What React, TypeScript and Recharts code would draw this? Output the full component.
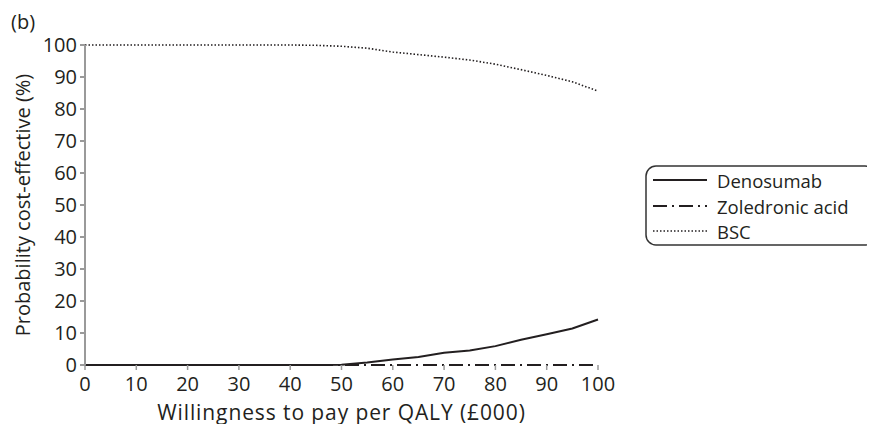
import { Line, LineChart, XAxis, YAxis } from 'recharts'

const wtp = [0, 5, 10, 15, 20, 25, 30, 35, 40, 45, 50, 55, 60, 65, 70, 75, 80, 85, 90, 95, 100]
const denosumab = [0, 0, 0, 0, 0, 0, 0, 0, 0, 0, 0.1, 0.8, 1.7, 2.5, 3.8, 4.5, 5.9, 7.9, 9.6, 11.4, 14.2]
const zoledronic = [0, 0, 0, 0, 0, 0, 0, 0, 0, 0, 0, 0, 0, 0, 0, 0, 0, 0, 0, 0, 0]
const bsc = [100, 100, 100, 100, 100, 100, 100, 100, 100, 99.9, 99.6, 99.0, 97.8, 97.0, 96.2, 95.3, 94.0, 92.3, 90.5, 88.5, 85.6]

const xTicks = [0, 10, 20, 30, 40, 50, 60, 70, 80, 90, 100]
const yTicks = [0, 10, 20, 30, 40, 50, 60, 70, 80, 90, 100]

const seriesNames = ['Denosumab', 'Zoledronic acid', 'BSC']

const data = wtp.map((w, i) => ({
  wtp: w,
  denosumab: denosumab[i],
  zoledronic: zoledronic[i],
  bsc: bsc[i],
}))

const FONT = '"Open Sans", "Noto Sans", sans-serif'
const INK = '#231f20'
const AXIS = '#9a9a9a'

const lineStyles = [
  { dash: undefined, width: 2 },
  { dash: '14 5 2 5', width: 2 },
  { dash: '1.5 2', width: 1.6 },
]

// legend drawn outside the chart so it doesn't eat plot space
function LegendBox() {
  const rows = [15, 41, 66]
  return (
    <svg
      width={232}
      height={82}
      style={{ position: 'absolute', left: 645, top: 165, overflow: 'visible' }}
    >
      <rect x={1} y={1} width={229} height={79} rx={10} fill="#fff" stroke="#333" strokeWidth={1.5} />
      {seriesNames.map((name, i) => (
        <g key={name}>
          <line
            x1={8}
            x2={62}
            y1={rows[i]}
            y2={rows[i]}
            stroke={INK}
            strokeWidth={lineStyles[i].width}
            strokeDasharray={lineStyles[i].dash}
          />
          <text x={72} y={rows[i]} dominantBaseline="central" fontSize={18.5} fill={INK} fontFamily={FONT}>
            {name}
          </text>
        </g>
      ))}
    </svg>
  )
}

export default function App() {
  return (
    <div style={{ margin: -8, width: 875, height: 432, position: 'relative', background: '#fff' }}>
      <div
        style={{
          position: 'absolute',
          left: 11,
          top: 8,
          fontFamily: FONT,
          fontSize: 20,
          lineHeight: '28px',
          color: INK,
          zIndex: 2,
        }}
      >
        (b)
      </div>
      <LineChart
        width={875}
        height={432}
        data={data}
        margin={{ top: 45, right: 277, bottom: 0, left: 0 }}
      >
        <XAxis
          dataKey="wtp"
          type="number"
          domain={[0, 100]}
          ticks={xTicks}
          interval={0}
          height={67}
          axisLine={false}
          tickLine={{ stroke: AXIS, strokeWidth: 1.5 }}
          tickSize={5}
          tickMargin={7}
          tick={{ fill: INK, fontSize: 20, fontFamily: FONT }}
          label={{
            value: 'Willingness to pay per QALY (£000)',
            position: 'insideBottom',
            offset: 12,
            fill: INK,
            fontSize: 21,
            letterSpacing: 0.9,
            fontFamily: FONT,
          }}
        />
        <YAxis
          type="number"
          domain={[0, 100]}
          ticks={yTicks}
          interval={0}
          width={85}
          stroke={AXIS}
          strokeWidth={2}
          tickSize={5}
          tickMargin={3}
          tick={{ fill: INK, fontSize: 20, fontFamily: FONT }}
          label={{
            value: 'Probability cost-effective (%)',
            angle: -90,
            position: 'insideLeft',
            offset: 23,
            style: { textAnchor: 'middle' },
            fill: INK,
            fontSize: 20,
            fontFamily: FONT,
          }}
        />
        <Line
          dataKey="bsc"
          name="BSC"
          stroke={INK}
          strokeWidth={lineStyles[2].width}
          strokeDasharray={lineStyles[2].dash}
          dot={false}
          type="linear"
          isAnimationActive={false}
        />
        <Line
          dataKey="zoledronic"
          name="Zoledronic acid"
          stroke={INK}
          strokeWidth={lineStyles[1].width}
          strokeDasharray={lineStyles[1].dash}
          dot={false}
          type="linear"
          isAnimationActive={false}
        />
        <Line
          dataKey="denosumab"
          name="Denosumab"
          stroke={INK}
          strokeWidth={lineStyles[0].width}
          dot={false}
          type="linear"
          isAnimationActive={false}
        />
      </LineChart>
      <LegendBox />
    </div>
  )
}
